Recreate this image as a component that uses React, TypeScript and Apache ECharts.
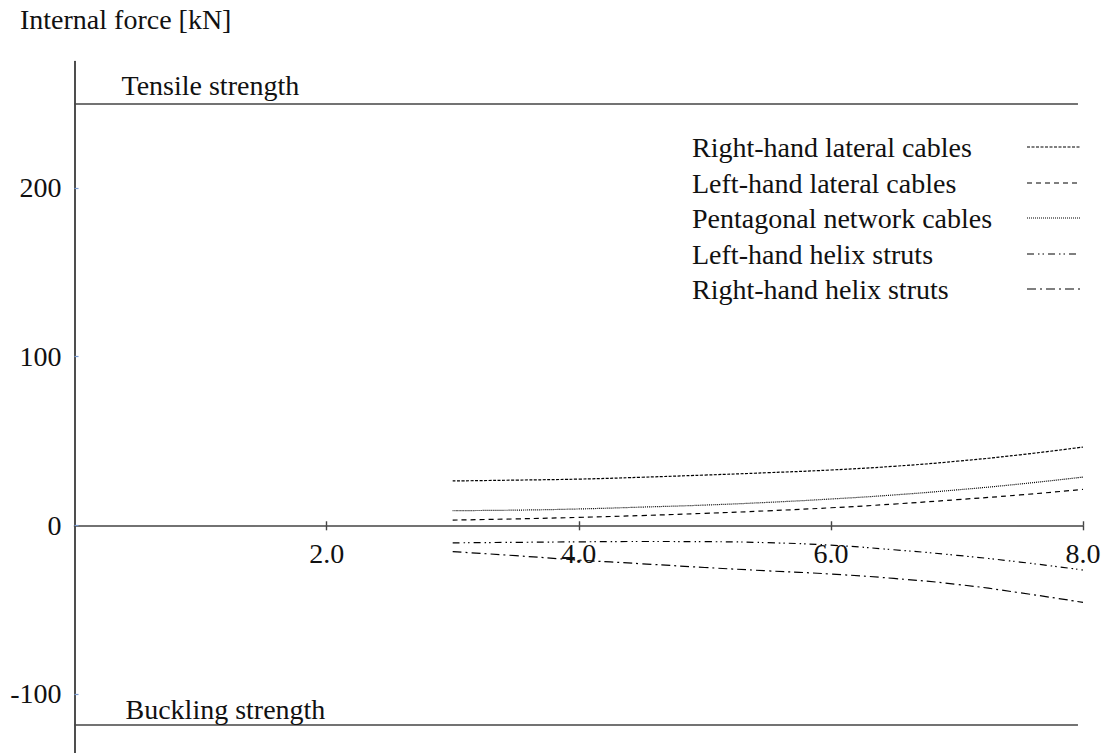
import React, { useEffect, useRef } from "react";
import * as echarts from "echarts";

const xValues = [3, 3.5, 4, 4.5, 5, 5.5, 6, 6.5, 7, 7.5, 8];
const rhLateral = [26.3, 26.8, 27.4, 28.5, 29.8, 31.2, 32.8, 35.0, 38.0, 41.8, 46.4];
const lhLateral = [3.1, 3.8, 4.7, 5.8, 7.1, 8.6, 10.4, 12.6, 15.2, 18.0, 21.3];
const pentagonal = [8.7, 9.0, 9.7, 10.8, 12.0, 13.6, 15.6, 18.0, 21.0, 24.5, 28.6];
const lhHelix = [-10.4, -10.1, -9.8, -9.6, -9.7, -10.3, -11.8, -14.5, -17.8, -21.8, -26.5];
const rhHelix = [-15.6, -18.0, -20.6, -22.8, -25.0, -27.0, -28.9, -31.5, -35.0, -40.0, -45.7];

const yTicks = [-100, 0, 100, 200];
const xTicks = [2, 4, 6, 8];
const xTickLabels = ["2.0", "4.0", "6.0", "8.0"];
const tensileStrength = 250;
const bucklingStrength = -118;
const strengthLineEnd = 7.96;
const upperTickSize = 2.4;

const seriesNames = [
  "Right-hand lateral cables",
  "Left-hand lateral cables",
  "Pentagonal network cables",
  "Left-hand helix struts",
  "Right-hand helix struts",
];
const seriesValues = [rhLateral, lhLateral, pentagonal, lhHelix, rhHelix];
const dashes: number[][] = [
  [3, 1.5],
  [5, 4],
  [1, 1],
  [7, 4, 1.5, 3, 1.5, 4],
  [9, 4, 2, 4],
];

const FONT = "'Liberation Serif', 'Times New Roman', serif";
const TEXT = "#111";
const AXIS = "#444";

export default function App() {
  const ref = useRef<HTMLDivElement>(null);
  useEffect(() => {
    if (!ref.current) return;
    const chart = echarts.init(ref.current, undefined, { renderer: "svg" });

    const series: any[] = seriesNames.map((name, i) => ({
      name,
      type: "line",
      smooth: true,
      showSymbol: false,
      symbol: "none",
      data: xValues.map((x, j) => [x, seriesValues[i][j]]),
      lineStyle: { color: "#000", width: 1.2, type: dashes[i] },
      z: 3,
    }));
    const labelBase = { show: true, position: "insideStartTop", fontFamily: FONT, fontSize: 28, color: TEXT };
    series[0].markLine = {
      silent: true,
      symbol: "none",
      animation: false,
      lineStyle: { type: "solid", color: AXIS, width: 1.6 },
      data: [
        [
          {
            coord: [0, tensileStrength],
            label: { ...labelBase, formatter: "Tensile strength", distance: [47, 4] },
          },
          { coord: [strengthLineEnd, tensileStrength] },
        ],
        [
          {
            coord: [0, bucklingStrength],
            label: { ...labelBase, formatter: "Buckling strength", distance: [51, 1] },
          },
          { coord: [strengthLineEnd, bucklingStrength] },
        ],
        ...xTicks.map((t) => [
          { coord: [t, 0], label: { show: false }, lineStyle: { width: 1.4, color: AXIS } },
          { coord: [t, upperTickSize] },
        ]),
      ],
    };
    series.push({
      name: "x tick labels",
      type: "scatter",
      symbolSize: 0,
      silent: true,
      itemStyle: { opacity: 1, color: TEXT },
      data: xTicks.map((t, i) => ({ value: [t, 0], name: xTickLabels[i] })),
      label: {
        show: true,
        position: "bottom",
        distance: 14,
        formatter: (p: any) => p.name,
        fontFamily: FONT,
        fontSize: 28,
        color: TEXT,
        opacity: 1,
      },
      z: 4,
    });

    const legendRows = [147, 183, 218, 254, 289];
    const graphic: any[] = [
      {
        type: "text",
        left: 20,
        top: 5,
        style: { text: "Internal force [kN]", font: `28px ${FONT}`, fill: TEXT },
      },
    ];
    seriesNames.forEach((name, i) => {
      graphic.push({
        type: "text",
        x: 692,
        y: legendRows[i],
        style: {
          text: name,
          font: `28px ${FONT}`,
          fill: TEXT,
          verticalAlign: "middle",
          align: "left",
        },
      });
      graphic.push({
        type: "line",
        shape: { x1: 1027, y1: legendRows[i], x2: 1080, y2: legendRows[i] },
        style: { stroke: "#000", lineWidth: 1.1, lineDash: dashes[i] },
      });
    });

    chart.setOption({
      animation: false,
      backgroundColor: "#fff",
      grid: { left: 74.5, right: 22, top: 61.5, bottom: 0, containLabel: false, outerBoundsMode: "none" },
      xAxis: {
        type: "value",
        min: 0,
        max: 8,
        interval: 2,
        position: "bottom",
        axisLine: { show: true, onZero: true, lineStyle: { color: AXIS, width: 1.6 } },
        axisTick: { show: true, length: 5, customValues: xTicks, lineStyle: { color: AXIS, width: 1.4 } },
        axisLabel: { show: false },
        splitLine: { show: false },
      },
      yAxis: {
        type: "value",
        min: -135,
        max: 275,
        axisLine: { show: true, onZero: false, lineStyle: { color: "#222", width: 1.6 } },
        axisTick: {
          show: true,
          inside: true,
          length: 4,
          customValues: yTicks,
          lineStyle: { color: "#7a9cd0", width: 1.2 },
        },
        axisLabel: {
          show: true,
          margin: 13,
          customValues: yTicks,
          fontFamily: FONT,
          fontSize: 28,
          color: TEXT,
        },
        splitLine: { show: false },
      },
      graphic,
      series,
    });

    return () => chart.dispose();
  }, []);

  return (
    <div
      ref={ref}
      style={{ position: "absolute", left: 0, top: 0, width: 1105, height: 753 }}
    />
  );
}
